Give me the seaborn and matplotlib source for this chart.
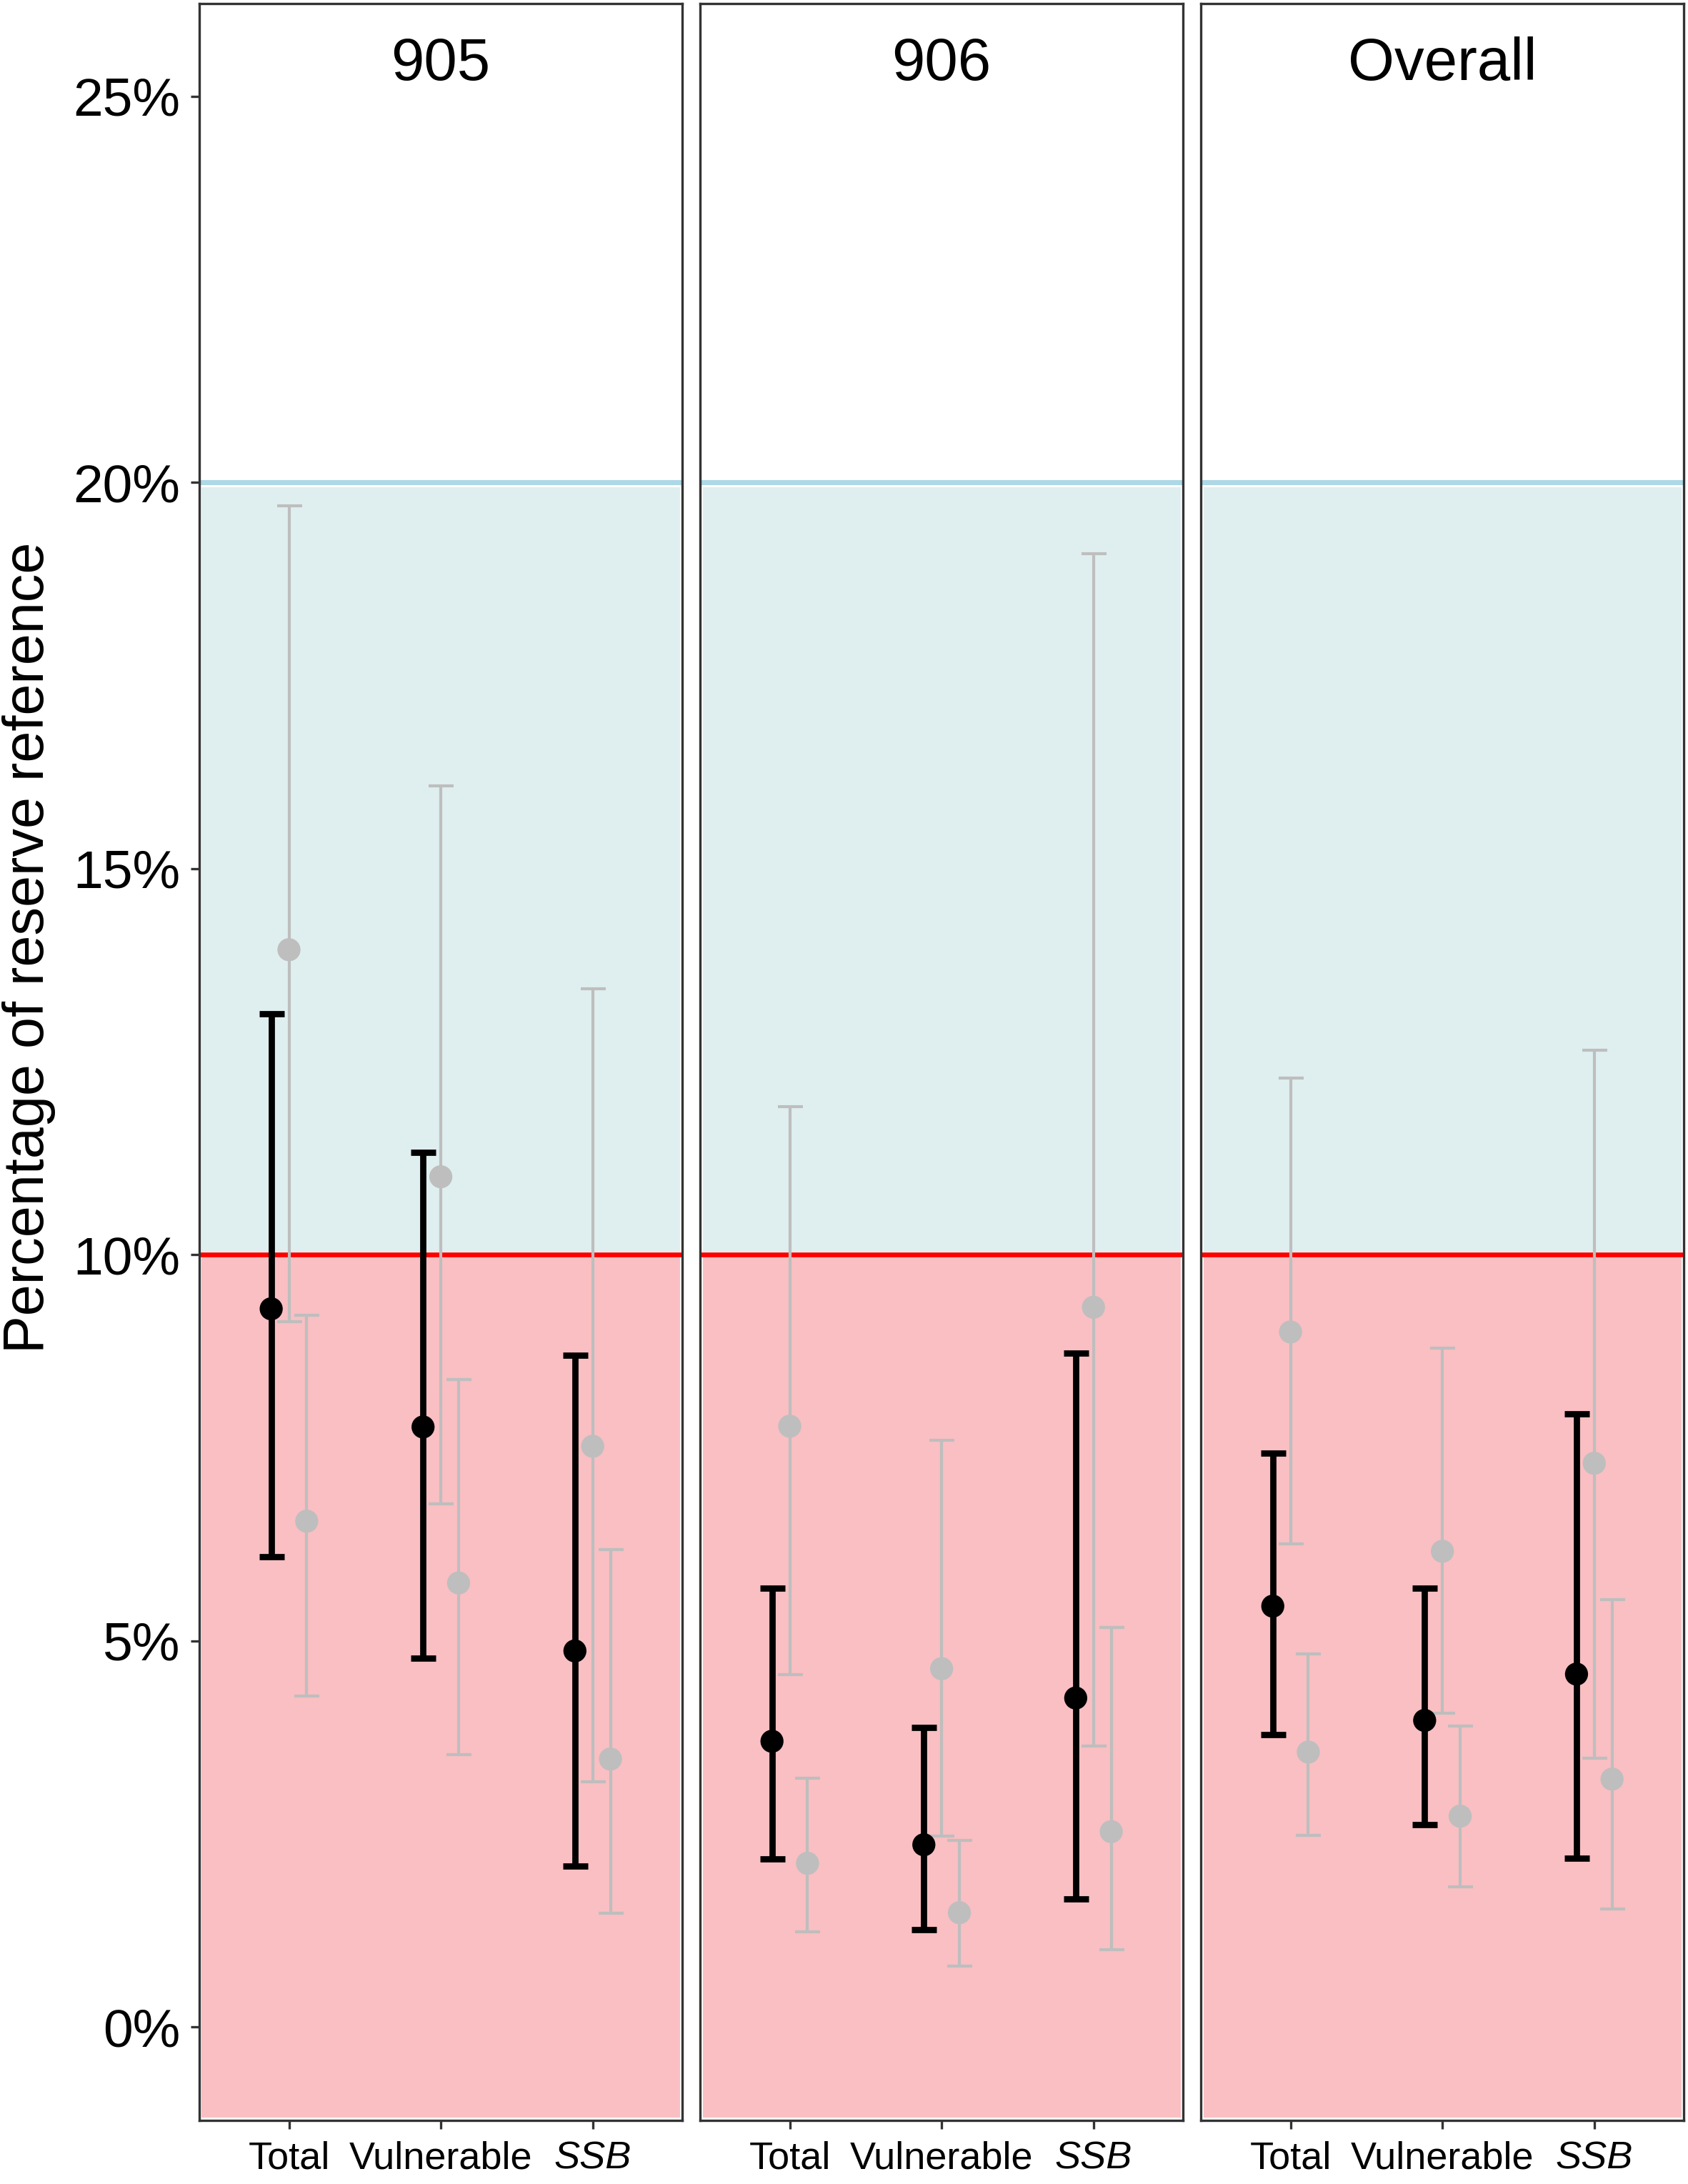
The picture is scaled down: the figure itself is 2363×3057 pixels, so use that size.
import numpy as np
import pandas as pd
import seaborn as sns
import matplotlib.pyplot as plt
from matplotlib.ticker import FuncFormatter

# dados (valores em %)
painels = ["905", "906", "Overall"]
categorias = ["Total", "Vulnerable", "SSB"]

# serie preta (por painel: Total, Vulnerable, SSB)
preto_mid = [[9.30, 7.77, 4.87], [3.70, 2.36, 4.26], [5.45, 3.97, 4.57]]
preto_lo = [[6.09, 4.78, 2.08], [2.18, 1.26, 1.66], [3.79, 2.62, 2.19]]
preto_hi = [[13.12, 11.33, 8.70], [5.68, 3.88, 8.73], [7.43, 5.68, 7.94]]

# primeira serie cinza (centro)
cinza1_mid = [[13.95, 11.01, 7.52], [7.78, 4.64, 9.32], [9.00, 6.16, 7.30]]
cinza1_lo = [[9.13, 6.77, 3.18], [4.56, 2.47, 3.64], [6.26, 4.06, 3.48]]
cinza1_hi = [[19.70, 16.07, 13.44], [11.92, 7.60, 19.08], [12.29, 8.79, 12.65]]

# segunda serie cinza (direita)
cinza2_mid = [[6.55, 5.75, 3.47], [2.12, 1.48, 2.53], [3.56, 2.73, 3.21]]
cinza2_lo = [[4.29, 3.53, 1.47], [1.23, 0.79, 1.00], [2.48, 1.82, 1.53]]
cinza2_hi = [[9.22, 8.38, 6.18], [3.22, 2.42, 5.17], [4.83, 3.90, 5.53]]

limite_vermelho = 10
limite_azul = 20

# montar tabela longa
linhas = []
series = [("a", preto_mid, preto_lo, preto_hi),
          ("b", cinza1_mid, cinza1_lo, cinza1_hi),
          ("c", cinza2_mid, cinza2_lo, cinza2_hi)]
for nome, mid, lo, hi in series:
    for p, painel in enumerate(painels):
        for c, cat in enumerate(categorias):
            linhas.append({"serie": nome, "painel": painel, "cat": c,
                           "mid": mid[p][c], "lo": lo[p][c], "hi": hi[p][c]})
df = pd.DataFrame(linhas)

deslocamento = {"a": -0.117, "b": 0.0, "c": 0.117}
cores = {"a": "black", "b": "#BEBEBE", "c": "#BEBEBE"}
espessura = {"a": 2.1, "b": 1.0, "c": 1.0}
df["x"] = df["cat"] + df["serie"].map(deslocamento)

sns.set_theme(style="white")
plt.rcParams["font.family"] = ["Liberation Sans", "DejaVu Sans"]

fig = plt.figure(figsize=(2363 / 300, 3057 / 300), dpi=300)

esq, larg, gap = 0.1181, 0.2861, 0.01058
base, alt = 0.0291, 0.9692

for i, painel in enumerate(painels):
    ax = fig.add_axes([esq + i * (larg + gap), base, larg, alt])
    ax.set_xlim(-0.59, 2.59)
    ax.set_ylim(-1.21, 26.2)

    # faixas de fundo
    ax.axhspan(-1.17, limite_vermelho, xmin=0.005, xmax=0.995,
               facecolor="#F9BFC2", edgecolor="none", zorder=0)
    ax.axhspan(limite_vermelho + 0.03, limite_azul - 0.06, xmin=0.005, xmax=0.995,
               facecolor="#DFEEEF", edgecolor="none", zorder=0)
    ax.axhline(limite_azul, color="#ADD8E6", lw=1.7, zorder=1)
    ax.axhline(limite_vermelho, color="#FF0000", lw=1.6, zorder=1)

    sub = df[df["painel"] == painel]
    for nome in ["c", "b", "a"]:
        s = sub[sub["serie"] == nome]
        ax.errorbar(s["x"], s["mid"], yerr=[s["mid"] - s["lo"], s["hi"] - s["mid"]],
                    fmt="none", ecolor=cores[nome], elinewidth=espessura[nome],
                    capsize=4.2, capthick=espessura[nome], zorder=2 if nome != "a" else 4)
        sns.scatterplot(data=s, x="x", y="mid", color=cores[nome], s=60,
                        edgecolor="none", legend=False, ax=ax,
                        zorder=3 if nome != "a" else 5)

    ax.text(0.5, 0.9715, painel, transform=ax.transAxes, ha="center", va="center",
            fontsize=20, color="black")

    ax.set_xticks(range(len(categorias)))
    ax.set_xticklabels(categorias, fontsize=13, color="black")
    ax.get_xticklabels()[2].set_fontstyle("italic")
    ax.set_xlabel("")
    ax.set_ylabel("")
    ax.tick_params(axis="x", length=12 / 300 * 72, width=0.8, color="#333333",
                   pad=4, bottom=True)
    if i == 0:
        ax.set_yticks([0, 5, 10, 15, 20, 25])
        ax.yaxis.set_major_formatter(FuncFormatter(lambda v, pos: f"{v:.0f}%"))
        ax.tick_params(axis="y", length=12 / 300 * 72, width=0.8, color="#333333",
                       pad=3.6, labelsize=18, left=True, labelcolor="black")
    else:
        ax.set_yticks([])
    for sp in ax.spines.values():
        sp.set_visible(True)
        sp.set_color("#333333")
        sp.set_linewidth(0.8)
    ax.grid(False)

fig.text(0.017, 0.566, "Percentage of reserve reference", rotation=90,
         ha="center", va="center", fontsize=19, color="black")

fig.savefig("out.png", dpi=300)
